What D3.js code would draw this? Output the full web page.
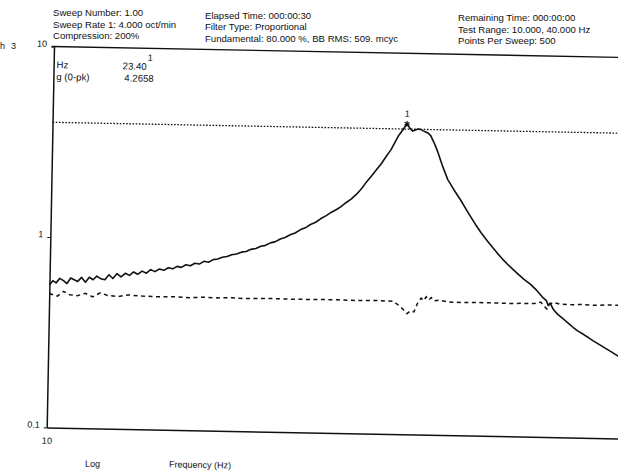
<!DOCTYPE html>
<html>
<head>
<meta charset="utf-8">
<script src="https://cdn.jsdelivr.net/npm/d3@7"></script>
<style>
  body { margin: 0; background: #fff; }
  text { font-family: "Liberation Sans", Arial, sans-serif; fill: #111; }
</style>
</head>
<body>
<svg id="chart" width="618" height="471"></svg>
<script>
// Sine sweep response, control channel (solid) and cross channel (dashed)
const responseFreq = [10.00,10.08,10.16,10.25,10.34,10.43,10.52,10.61,10.70,10.80,10.90,11.00,11.10,11.20,11.31,11.42,11.53,11.64,11.75,11.87,11.99,12.11,12.23,12.35,12.48,12.61,12.74,12.87,13.01,13.15,13.29,13.43,13.57,13.71,13.86,14.01,14.16,14.31,14.47,14.63,14.79,14.95,15.12,15.29,15.46,15.64,15.82,16.00,16.19,16.38,16.57,16.76,16.96,17.16,17.36,17.56,17.77,17.98,18.20,18.42,18.65,18.88,19.12,19.36,19.60,19.84,20.05,20.30,20.55,20.80,21.05,21.30,21.55,21.80,22.03,22.28,22.54,22.75,22.96,23.17,23.40,23.56,23.73,23.88,24.04,24.19,24.34,24.48,24.64,24.78,25.00,25.22,25.50,25.86,26.25,26.70,27.20,27.71,28.10,28.54,28.90,29.24,29.60,29.97,30.37,30.77,31.20,31.70,32.20,32.72,32.95,33.10,33.25,33.52,33.90,34.35,34.75,35.19,35.60,36.06,36.50,36.94,37.50,38.02,38.60,39.15,39.60,40.00];
const responseG = [0.560,0.590,0.575,0.608,0.592,0.572,0.612,0.600,0.588,0.618,0.584,0.620,0.602,0.630,0.610,0.604,0.642,0.614,0.652,0.628,0.656,0.640,0.668,0.650,0.676,0.660,0.690,0.674,0.696,0.686,0.708,0.700,0.722,0.714,0.738,0.730,0.752,0.746,0.772,0.764,0.790,0.796,0.814,0.822,0.842,0.850,0.870,0.878,0.902,0.912,0.938,0.950,0.980,0.996,1.030,1.050,1.085,1.110,1.155,1.185,1.235,1.270,1.330,1.380,1.440,1.490,1.545,1.625,1.700,1.800,1.930,2.100,2.260,2.440,2.610,2.850,3.100,3.400,3.710,3.950,4.2658,4.050,3.910,3.960,4.010,4.000,3.930,3.880,3.820,3.720,3.400,3.060,2.620,2.200,1.950,1.720,1.480,1.280,1.160,1.050,0.975,0.910,0.850,0.800,0.752,0.710,0.668,0.630,0.585,0.535,0.520,0.490,0.505,0.468,0.440,0.418,0.398,0.378,0.362,0.349,0.336,0.323,0.309,0.297,0.284,0.272,0.264,0.258];

const crossFreq = [10.0,10.2,10.35,10.5,10.7,10.9,11.1,11.3,11.5,11.8,12.1,12.5,13.0,13.5,14.0,14.5,15.0,15.5,16.0,17.0,18.0,19.0,20.0,21.0,22.0,22.8,23.2,23.4,23.6,23.8,24.0,24.2,24.4,24.55,24.7,24.85,25.0,25.2,25.5,26.0,27.0,28.0,29.0,30.0,31.0,32.0,32.5,32.8,33.0,33.2,33.5,34.0,35.0,36.0,37.0,38.0,39.0,40.0];
const crossG = [0.505,0.490,0.520,0.500,0.495,0.510,0.490,0.515,0.500,0.495,0.505,0.500,0.498,0.500,0.496,0.500,0.498,0.500,0.497,0.500,0.498,0.500,0.500,0.498,0.500,0.498,0.470,0.450,0.430,0.445,0.440,0.490,0.520,0.505,0.530,0.510,0.525,0.505,0.510,0.500,0.498,0.500,0.500,0.498,0.500,0.500,0.510,0.485,0.470,0.495,0.510,0.500,0.498,0.500,0.497,0.500,0.500,0.500];

const limitG = 4.0;
const peakFreq = 23.40;
const peakG = 4.2658;

const yTickValues = [0.1, 1, 10];
const yTickLabels = ["0.1", "1", "10"];
const xTickValues = [10];
const xTickLabels = ["10"];

const headerLeft = ["Sweep Number: 1.00", "Sweep Rate 1: 4.000 oct/min", "Compression: 200%"];
const headerMid = ["Elapsed Time: 000:00:30", "Filter Type: Proportional", "Fundamental: 80.000 %, BB RMS: 509. mcyc"];
const headerRight = ["Remaining Time: 000:00:00", "Test Range: 10.000, 40.000 Hz", "Points Per Sweep: 500"];

// Plot geometry
const plotLeft = 54, plotTop = 46.5, plotW = 578, plotH = 381;
const tilt = 1.1;

const svg = d3.select("#chart");
svg.append("rect").attr("width", 618).attr("height", 471).attr("fill", "#fff");

// stray marks at the page edge
svg.append("text").attr("x", 0).attr("y", 49).attr("font-size", 9).text("h");
svg.append("text").attr("x", 11).attr("y", 49).attr("font-size", 9).text("3");

// header block: three columns of sweep status, each column a little lower to the right
const hdr = svg.append("g").attr("font-size", 9.6);
const cols = [[headerLeft, 53, 16], [headerMid, 205, 18.5], [headerRight, 458, 21]];
cols.forEach(([lines, cx, cy]) => {
  lines.forEach((t, i) => {
    hdr.append("text").attr("x", cx).attr("y", cy + i * 11.7).text(t);
  });
});

const g = svg.append("g").attr("transform", `rotate(${tilt},${plotLeft},${plotTop})`);

const x = d3.scaleLog().domain([10, 40]).range([plotLeft, plotLeft + plotW]);
const y = d3.scaleLog().domain([0.1, 10]).range([plotTop + plotH, plotTop]);

// frame: top rule, left and bottom axes
g.append("line")
  .attr("x1", plotLeft - 2).attr("x2", plotLeft + plotW)
  .attr("y1", y(10)).attr("y2", y(10))
  .attr("stroke", "#111").attr("stroke-width", 1.4);

const yAxis = d3.axisLeft(y).tickValues(yTickValues)
  .tickFormat((d, i) => yTickLabels[i]).tickSize(3).tickSizeOuter(0);
const ya = g.append("g").attr("transform", `translate(${plotLeft},0)`).call(yAxis);
ya.select(".domain").attr("stroke", "#111").attr("stroke-width", 1.5);
ya.selectAll(".tick line").attr("stroke", "#111");
ya.selectAll(".tick text")
  .attr("font-size", 9).attr("dy", "0").attr("y", 0).attr("x", -7)
  .attr("font-family", "Liberation Sans, Arial, sans-serif").attr("fill", "#111");

const xAxis = d3.axisBottom(x).tickValues(xTickValues)
  .tickFormat((d, i) => xTickLabels[i]).tickSize(0).tickSizeOuter(0);
const xa = g.append("g").attr("transform", `translate(0,${plotTop + plotH})`).call(xAxis);
xa.select(".domain").attr("stroke", "#111").attr("stroke-width", 1.5);
xa.selectAll(".tick text")
  .attr("font-size", 9).attr("y", 10).attr("dy", "0.71em")
  .attr("font-family", "Liberation Sans, Arial, sans-serif").attr("fill", "#111");

// axis captions
g.append("text").attr("x", 93).attr("y", 466).attr("font-size", 9).text("Log");
g.append("text").attr("x", 177).attr("y", 465).attr("font-size", 9).text("Frequency (Hz)");

// limit line
g.append("line")
  .attr("x1", x(10)).attr("x2", x(40))
  .attr("y1", y(limitG)).attr("y2", y(limitG))
  .attr("stroke", "#111").attr("stroke-width", 1.3)
  .attr("stroke-dasharray", "1.6,1.6");

// cross channel
const crossData = crossFreq.map((f, i) => [f, crossG[i]]);
g.append("path").datum(crossData)
  .attr("fill", "none").attr("stroke", "#111").attr("stroke-width", 1.5)
  .attr("stroke-dasharray", "4,3.5")
  .attr("d", d3.line().x(d => x(d[0])).y(d => y(d[1])));

// control response
const respData = responseFreq.map((f, i) => [f, responseG[i]]);
g.append("path").datum(respData)
  .attr("fill", "none").attr("stroke", "#111").attr("stroke-width", 1.6)
  .attr("stroke-linejoin", "round")
  .attr("d", d3.line().x(d => x(d[0])).y(d => y(d[1])));

// peak cursor
g.append("path")
  .attr("transform", `translate(${x(peakFreq)},${y(peakG)})`)
  .attr("d", d3.symbol(d3.symbolAsterisk, 22)())
  .attr("stroke", "#111").attr("stroke-width", 1.2).attr("fill", "none");
g.append("text").attr("x", x(peakFreq)).attr("y", y(peakG) - 7)
  .attr("text-anchor", "middle").attr("font-size", 9).text("1");

// cursor readout
const ro = g.append("g").attr("font-size", 9.6);
ro.append("text").attr("x", 57).attr("y", 68).text("Hz");
ro.append("text").attr("x", 57).attr("y", 80).text("g (0-pk)");
ro.append("text").attr("x", 123).attr("y", 68).text(peakFreq.toFixed(2));
ro.append("text").attr("x", 148).attr("y", 59).attr("font-size", 9).text("1");
ro.append("text").attr("x", 125).attr("y", 80).text(peakG.toFixed(4));
</script>
</body>
</html>
